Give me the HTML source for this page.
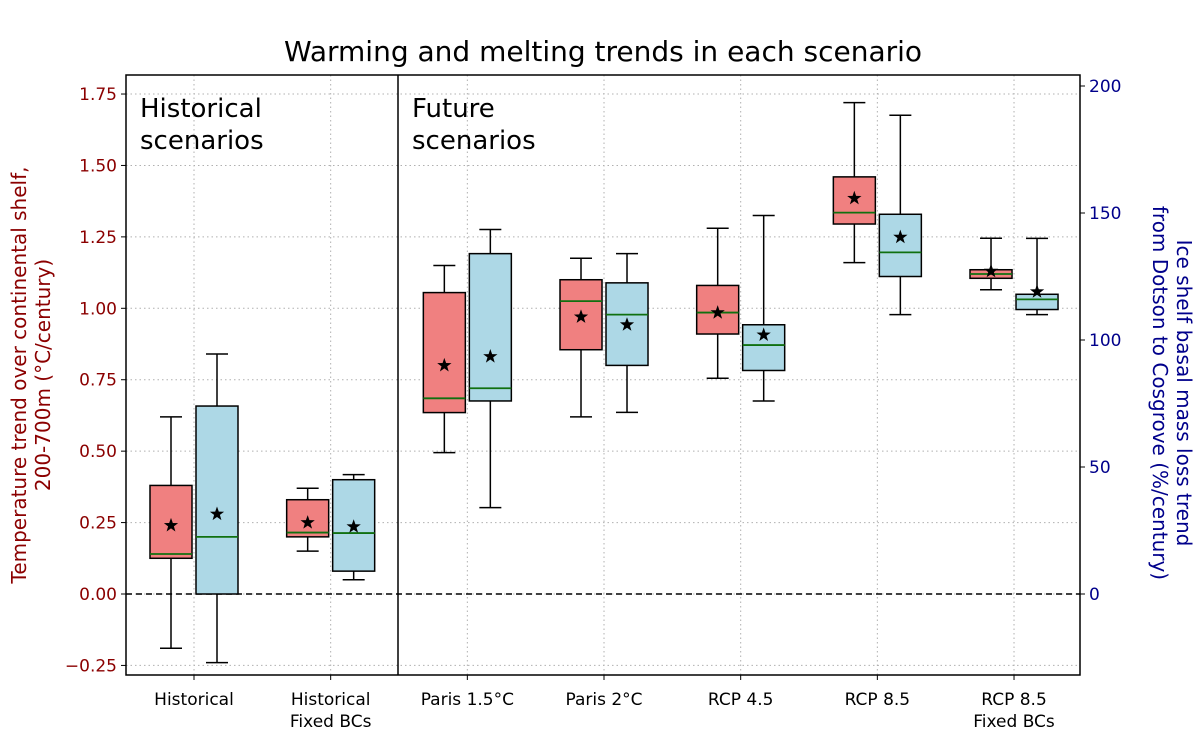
<!DOCTYPE html>
<html><head><meta charset="utf-8"><style>
body{margin:0;background:#fff}
text{font-family:"DejaVu Sans","Liberation Sans",sans-serif}
</style></head><body>
<svg id="chart" width="1200" height="750" xmlns="http://www.w3.org/2000/svg">
<rect width="1200" height="750" fill="#fff"/>
<g id="grid"></g><g id="marks"></g><g id="axes"></g>
</svg>
<script>
const categories=["Historical","Historical\nFixed BCs","Paris 1.5°C","Paris 2°C","RCP 4.5","RCP 8.5","RCP 8.5\nFixed BCs"];
// temperature (left axis, °C/century): [whiskerLow, Q1, median, Q3, whiskerHigh, mean]
const tempStats=[[-0.19,0.125,0.14,0.38,0.62,0.24],[0.15,0.20,0.215,0.33,0.37,0.25],[0.495,0.635,0.685,1.055,1.15,0.80],[0.62,0.855,1.025,1.10,1.175,0.97],[0.755,0.91,0.985,1.08,1.28,0.985],[1.16,1.295,1.335,1.46,1.72,1.385],[1.065,1.105,1.12,1.135,1.245,1.13]];
// melt (right axis, %/century)
const meltStats=[[-27,0,22.5,74,94.5,31.5],[5.6,9,24,45,47,26.5],[34,76,81,134,143.5,93.5],[71.5,90,110,122.5,134,106],[76,88,98,106,149,102],[110,125,134.5,149.5,188.5,140.5],[110,112,116,118,140,119]];
const leftTicks=[-0.25,0,0.25,0.5,0.75,1.0,1.25,1.5,1.75];
const rightTicks=[0,50,100,150,200];
const X0=126,X1=1080,Y0=75,Y1=675;
const yL=v=>594-v*285.7;
const yR=v=>594-v*2.54;
const xC=i=>194+i*136.67;
const NS="http://www.w3.org/2000/svg";
function mk(p,t,a){const e=document.createElementNS(NS,t);for(const k in a)e.setAttribute(k,a[k]);p.appendChild(e);return e;}
const grid=document.getElementById('grid'),marks=document.getElementById('marks'),axes=document.getElementById('axes');
leftTicks.forEach(t=>{const l=mk(grid,'line',{x1:X0,x2:X1,y1:yL(t),y2:yL(t),stroke:'#b0b0b0','stroke-width':1,'stroke-dasharray':'1.5,3'});

});
categories.forEach((c,i)=>{const l=mk(grid,'line',{x1:xC(i),x2:xC(i),y1:Y0,y2:Y1,stroke:'#b0b0b0','stroke-width':1,'stroke-dasharray':'1.5,3'});

});
const z=mk(grid,'line',{x1:X0,x2:X1,y1:yL(0),y2:yL(0),stroke:'#000','stroke-width':1.5,'stroke-dasharray':'6,4'});


function star(g,cx,cy){let p='';for(let k=0;k<10;k++){const r=k%2?3:7.5,a=-Math.PI/2+k*Math.PI/5;p+=(k?'L':'M')+(cx+r*Math.cos(a)).toFixed(1)+','+(cy+r*Math.sin(a)).toFixed(1);}mk(g,'path',{d:p+'Z',fill:'#000'});}
function box(s,cx,f,fill,name){const g=mk(marks,'g',{});


const w=42,[lo,q1,md,q3,hi,mn]=s.map(f);
mk(g,'line',{x1:cx,x2:cx,y1:lo,y2:q1,stroke:'#000','stroke-width':1.5});
mk(g,'line',{x1:cx,x2:cx,y1:q3,y2:hi,stroke:'#000','stroke-width':1.5});
mk(g,'line',{x1:cx-11,x2:cx+11,y1:lo,y2:lo,stroke:'#000','stroke-width':1.5});
mk(g,'line',{x1:cx-11,x2:cx+11,y1:hi,y2:hi,stroke:'#000','stroke-width':1.5});
mk(g,'rect',{x:cx-w/2,y:q3,width:w,height:q1-q3,fill:fill,stroke:'#000','stroke-width':1.5});
mk(g,'line',{x1:cx-w/2,x2:cx+w/2,y1:md,y2:md,stroke:'#107010','stroke-width':1.8});
star(g,cx,mn);}
categories.forEach((c,i)=>{box(tempStats[i],xC(i)-23,yL,'#f08080','temp-box-'+i);box(meltStats[i],xC(i)+23,yR,'#add8e6','melt-box-'+i);});
const fr=mk(axes,'rect',{x:X0,y:Y0,width:X1-X0,height:Y1-Y0,fill:'none',stroke:'#000','stroke-width':1.5});


const dv=mk(axes,'line',{x1:398,x2:398,y1:Y0,y2:Y1,stroke:'#000','stroke-width':1.5});


leftTicks.forEach(t=>{const y=yL(t);mk(axes,'line',{x1:X0-5,x2:X0,y1:y,y2:y,stroke:'#000'});
const tx=mk(axes,'text',{x:X0-9,y:y+6,'text-anchor':'end','font-size':17,fill:'#8b0000'});tx.textContent=(t<0?'\u2212':'')+Math.abs(t).toFixed(2);

});
rightTicks.forEach(t=>{const y=yR(t);mk(axes,'line',{x1:X1,x2:X1+5,y1:y,y2:y,stroke:'#000'});
const tx=mk(axes,'text',{x:X1+9,y:y+6,'font-size':17,fill:'#00008b'});tx.textContent=t;

});
categories.forEach((c,i)=>{const x=xC(i);mk(axes,'line',{x1:x,x2:x,y1:Y1,y2:Y1+5,stroke:'#000'});
c.split('\n').forEach((ln,j)=>{const tx=mk(axes,'text',{x:x,y:705+j*22,'text-anchor':'middle','font-size':17});tx.textContent=ln;

});});
</script>
<svg style="position:absolute;left:0;top:0" width="1200" height="750" xmlns="http://www.w3.org/2000/svg">
<text x="603" y="61" text-anchor="middle" font-size="28">Warming and melting trends in each scenario</text>
<text x="140" y="117" font-size="26">Historical</text>
<text x="140" y="149" font-size="26">scenarios</text>
<text x="412" y="117" font-size="26">Future</text>
<text x="412" y="149" font-size="26">scenarios</text>
<g transform="translate(26,375) rotate(-90)">
<text x="0" y="0" text-anchor="middle" font-size="20" fill="#8b0000">Temperature trend over continental shelf,</text>
<text x="0" y="24" text-anchor="middle" font-size="20" fill="#8b0000">200-700m (°C/century)</text></g>
<g transform="translate(1177,393) rotate(90)">
<text x="0" y="0" text-anchor="middle" font-size="20" fill="#00008b">Ice shelf basal mass loss trend</text>
<text x="0" y="24" text-anchor="middle" font-size="20" fill="#00008b">from Dotson to Cosgrove (%/century)</text></g>
</svg>
</body></html>
